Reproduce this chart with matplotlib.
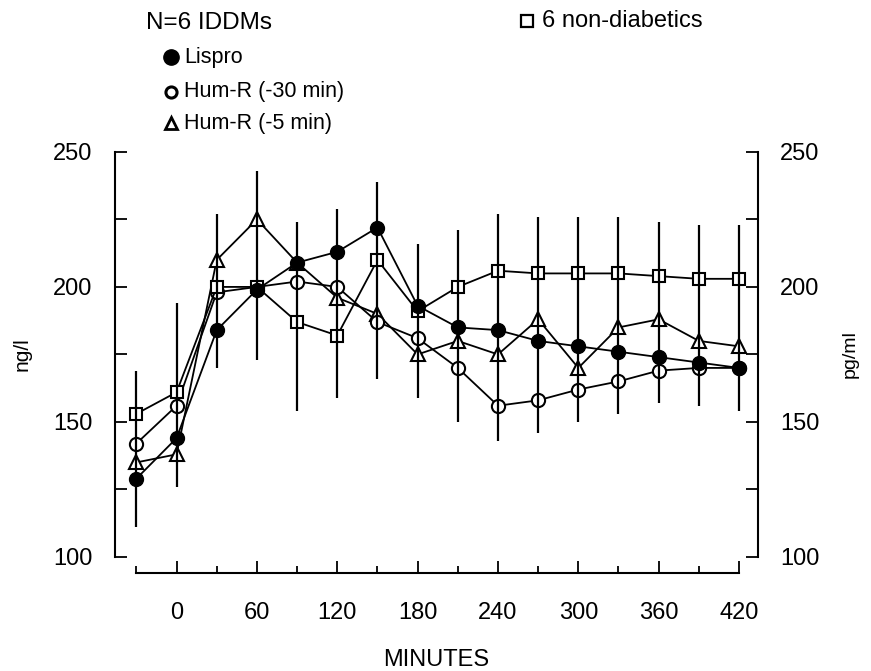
import matplotlib.pyplot as plt
from matplotlib.lines import Line2D
from matplotlib.ticker import MultipleLocator

plt.rcParams['font.family'] = ['Liberation Sans', 'DejaVu Sans']

# time points (minutes) and group means
minutes = [-30, 0, 30, 60, 90, 120, 150, 180, 210, 240, 270, 300, 330, 360, 390, 420]
lispro = [129, 144, 184, 199, 209, 213, 222, 193, 185, 184, 180, 178, 176, 174, 172, 170]
humr_30 = [142, 156, 198, 200, 202, 200, 187, 181, 170, 156, 158, 162, 165, 169, 170, 170]
humr_5 = [135, 138, 210, 225, 209, 196, 190, 175, 180, 175, 188, 170, 185, 188, 180, 178]
non_diab = [153, 161, 200, 200, 187, 182, 210, 191, 200, 206, 205, 205, 205, 204, 203, 203]

# error bar extents (one bar per time point)
err_top = [169, 194, 227, 243, 224, 229, 239, 216, 221, 227, 226, 226, 226, 224, 223, 223]
err_bottom = [111, 126, 170, 173, 154, 159, 166, 159, 150, 143, 146, 150, 153, 157, 156, 154]

fig = plt.figure(figsize=(8.71, 6.71), dpi=100)
ax = fig.add_axes([0.132, 0.170, 0.738, 0.6036])

line_kw = dict(color='black', lw=1.3)
ax.plot(minutes, humr_5, marker='^', ms=10, mfc='white', mec='black', mew=1.5, zorder=2, **line_kw)
ax.plot(minutes, humr_30, marker='o', ms=9.5, mfc='white', mec='black', mew=1.5, zorder=2, **line_kw)
ax.plot(minutes, non_diab, marker='s', ms=9, mfc='white', mec='black', mew=1.5, zorder=3, **line_kw)
ax.vlines(minutes, err_bottom, err_top, color='black', lw=1.6, zorder=4)
ax.plot(minutes, lispro, marker='o', ms=10, mfc='black', mec='black', zorder=5, **line_kw)

ax.set_xlim(-46, 434)
ax.set_ylim(100, 250)

ax.spines['top'].set_visible(False)
ax.spines['right'].set_visible(False)
ax.spines['bottom'].set_position(('outward', 11.5))
ax.spines['bottom'].set_bounds(-30, 420)
for s in ['left', 'bottom']:
    ax.spines[s].set_linewidth(1.5)

ax.xaxis.set_major_locator(MultipleLocator(60))
ax.xaxis.set_minor_locator(MultipleLocator(30))
ax.yaxis.set_major_locator(MultipleLocator(50))
ax.yaxis.set_minor_locator(MultipleLocator(25))
ax.tick_params(axis='x', which='major', direction='in', length=8.5, width=1.3, pad=21, labelsize=17)
ax.tick_params(axis='x', which='minor', direction='in', length=5, width=1.3)
ax.tick_params(axis='y', which='both', direction='in', length=8.5, width=1.3, pad=16, labelsize=17)

ax.set_xlabel('MINUTES', fontsize=17, labelpad=18)
ax.set_ylabel('ng/l', fontsize=15, labelpad=16)

ax2 = ax.twinx()
ax2.set_ylim(100, 250)
for s in ['top', 'bottom', 'left']:
    ax2.spines[s].set_visible(False)
ax2.spines['right'].set_linewidth(1.5)
ax2.yaxis.set_major_locator(MultipleLocator(50))
ax2.yaxis.set_minor_locator(MultipleLocator(25))
ax2.tick_params(axis='y', which='both', direction='in', length=8.5, width=1.3, pad=16, labelsize=17)
ax2.set_ylabel('pg/ml', fontsize=14, labelpad=16, rotation=90)


# legend block: marker keys plus text, placed in figure pixels
def fx(px):
    return px / 871


def fy(py):
    return 1 - py / 671


def key(x, y, **kw):
    fig.add_artist(Line2D([fx(x)], [fy(y)], transform=fig.transFigure, color='black', **kw))


fig.text(fx(146), fy(23), 'N=6 IDDMs', fontsize=17.5, va='center', ha='left')
key(171, 57, marker='o', ms=11, mfc='black', mec='black')
fig.text(fx(184), fy(57), 'Lispro', fontsize=15.5, va='center', ha='left')
key(171, 92, marker='o', ms=8, mfc='white', mec='black', mew=2.2)
fig.text(fx(184), fy(92), 'Hum-R (-30 min)', fontsize=15.5, va='center', ha='left')
key(171, 123, marker='^', ms=9, mfc='white', mec='black', mew=2)
fig.text(fx(184), fy(124), 'Hum-R (-5 min)', fontsize=15.5, va='center', ha='left')
key(527, 21, marker='s', ms=9, mfc='white', mec='black', mew=1.6)
fig.text(fx(542), fy(21), '6 non-diabetics', fontsize=17, va='center', ha='left')

fig.savefig('out.png', dpi=100)
